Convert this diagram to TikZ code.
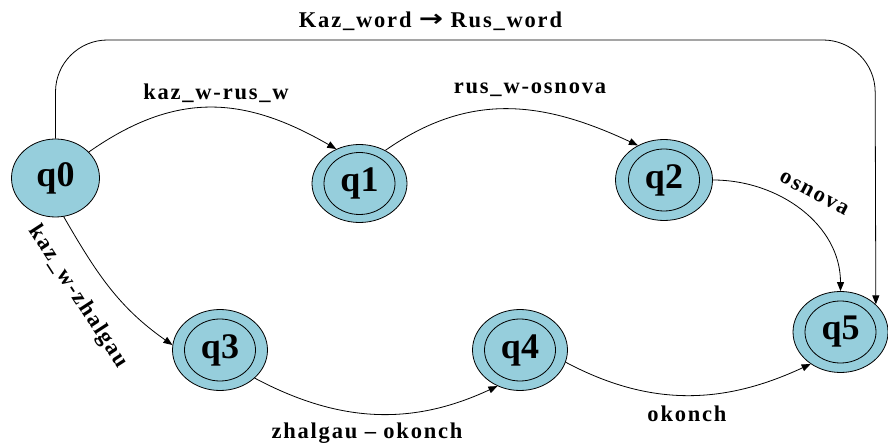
\documentclass[tikz,border=0pt]{standalone}
\usepackage{fontspec}
\usepackage{graphicx}
\setmainfont{Liberation Serif}
\newfontfamily\lblfont{Liberation Serif}[LetterSpace=8]
\newfontfamily\arrowfont{DejaVu Sans}
\usetikzlibrary{shapes.geometric,arrows.meta}
\definecolor{stfill}{RGB}{150,206,220}
\begin{document}
\begin{tikzpicture}[x=1pt,y=1pt,
  state/.style={ellipse, draw, line width=0.8pt, fill=stfill,
    minimum width=95pt, minimum height=81pt, inner sep=0pt,
    font=\bfseries\fontsize{36}{38}\selectfont},
  accept/.style={state, path picture={\draw[line width=0.8pt]
    (path picture bounding box.center) ellipse [x radius=35.5pt, y radius=31pt];}},
  edge/.style={line width=0.8pt, -{Triangle[length=9pt,width=7pt]}},
  lbl/.style={font=\lblfont\bfseries\fontsize{22.5}{24}\selectfont, inner sep=0pt}]
\useasboundingbox (0,0) rectangle (888,-443);

% states
\node[state, minimum width=88pt, minimum height=78pt] (q0) at (55.5,-178) {q0};
\node[accept, minimum height=78pt] (q1) at (359.5,-183.5) {q1};
\node[accept, minimum width=97pt] (q2) at (664,-180) {q2};
\node[accept] (q3) at (220,-350) {q3};
\node[accept] (q4) at (520,-350) {q4};
\node[accept] (q5) at (840.5,-332) {q5};

% transitions
\coordinate (tr) at (875,-40);
\draw[edge, rounded corners=52pt] (q0.north) |- (tr) -- (q5.38);
\draw[edge] (q0.38) to[out=35,in=150,looseness=1.1] (q1.124);
\draw[edge] (q1.52) to[out=35,in=155,looseness=1.05] (q2.127);
\draw[edge] (q2.east) to[out=0,in=90] (q5.north);
\draw[edge] (q0.-78) to[out=-60,in=145] (q3.174);
\draw[edge] (q3.-39) to[out=-28,in=205] (q4.-122);
\draw[edge] (q4.-15) to[out=-28,in=205] (q5.227);

% labels
\node[lbl] (t05) at (430.5,-21) {Kaz\_word \raisebox{0.5pt}{\scalebox{1.45}[1.15]{\arrowfont\fontsize{20}{22}\selectfont →}} Rus\_word};
\node[lbl] (t01) at (216,-93) {kaz\_w-rus\_w};
\node[lbl] (t12) at (530,-90) {rus\_w-osnova};
\node[lbl, rotate=-28] (t25) at (814,-194) {osnova};
\node[lbl, rotate=-57] (t03) at (78,-297) {kaz\_w-zhalgau};
\node[lbl] (t34) at (367,-433) {zhalgau – okonch};
\node[lbl] (t45) at (687,-414) {okonch};
\end{tikzpicture}
\end{document}
